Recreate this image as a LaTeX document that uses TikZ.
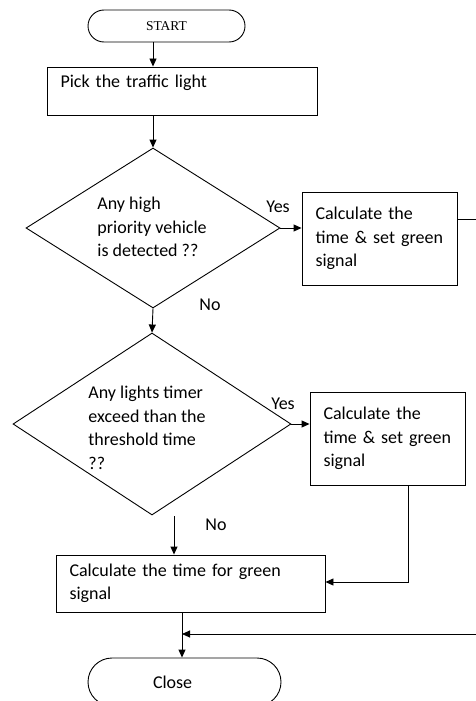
\documentclass[tikz,border=0pt]{standalone}
\usepackage{fontspec}
\setmainfont{Carlito}
\newfontfamily\timesfont{Liberation Serif}
\usetikzlibrary{shapes.geometric,arrows.meta}
\begin{document}
\begin{tikzpicture}[x=1pt,y=-1pt,
  line width=0.9pt,
  txt/.style={font=\fontsize{18}{23.5}\selectfont},
  box/.style={draw, rectangle, txt, align=left, inner xsep=13.5pt, inner ysep=0pt},
  dia/.style={draw, diamond, inner sep=0pt},
  term/.style={draw, rectangle},
  arr/.style={-{Triangle[length=8pt,width=7pt]}},
  lbl/.style={txt, inner sep=0pt}]
\useasboundingbox (0,0) rectangle (475,701);

\node[term, rounded corners=16pt, minimum width=157pt, minimum height=32pt,
      font=\timesfont\fontsize{13.5}{16}\selectfont] (start) at (166.5,26) {START};
\node[box, text width=243pt, minimum width=270pt, minimum height=48pt] (b1) at (182,91)
      {Pick the traffic light\\[-12pt]\strut};
\node[dia, minimum width=254pt, minimum height=160pt] (d1) at (153,228) {};
\node[lbl, align=left, anchor=west] (t1) at (97,227) {Any high\\priority vehicle\\is detected ??};
\node[box, text width=128pt, minimum width=155pt, minimum height=93pt] (b2) at (379.5,238.5)
      {Calculate the\\time \& set green\\signal};
\node[dia, minimum width=278pt, minimum height=182pt] (d2) at (152,424) {};
\node[lbl, align=left, anchor=west] (t2) at (88,428) {Any lights timer\\exceed than the\\threshold time\\??};
\node[box, text width=128pt, minimum width=155pt, minimum height=93pt] (b3) at (387.5,438.5)
      {Calculate the\\time \& set green\\signal};
\node[box, text width=242pt, minimum width=269pt, minimum height=57pt] (b4) at (190.5,583.5)
      {Calculate the time for green\\signal};
\node[term, txt, rounded corners=24pt, minimum width=193pt, minimum height=48pt,
      inner xsep=65pt, text width=63pt, align=left] (close) at (184.5,682) {Close};

\node[lbl] (y1) at (278,207) {Yes};
\node[lbl] (no1) at (210,305) {No};
\node[lbl] (y2) at (283,404) {Yes};
\node[lbl] (no2) at (216,525) {No};

\draw[arr] (start.south -| d1.north) -- (b1.north -| d1.north);
\draw[arr] (b1.south -| d1.north) -- (d1.north);
\draw[arr] (d1.east) -- (b2.west |- d1.east);
\draw[arr] (d1.south) -- (d2.north);
\draw[arr] (d2.east) -- (b3.west |- d2.east);
\coordinate (n2) at (174,516);
\draw[arr] (n2) -- (n2 |- b4.north);
\coordinate (c3) at (408,582);
\draw[arr] (b3.south -| c3) -- (c3) -- (c3 -| b4.east);
\coordinate (j) at (182,634);
\draw[arr] (b4.south -| j) -- (j |- close.north);
\coordinate (r0) at (490,219);
\draw[arr] (r0 -| b2.east) -- (r0) -- (r0 |- j) -- (j);
\end{tikzpicture}
\end{document}
